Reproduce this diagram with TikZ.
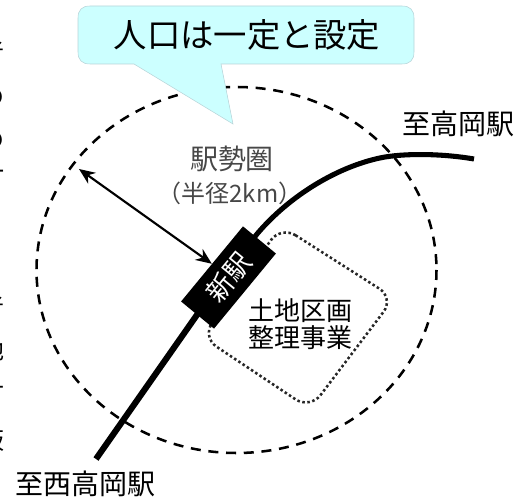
\documentclass[tikz,border=0pt]{standalone}
\usepackage{fontspec}
\setmainfont{Noto Sans CJK JP}
\usetikzlibrary{arrows.meta}
\definecolor{calloutfill}{HTML}{CCFFFF}
\definecolor{calloutedge}{HTML}{B8D4D8}
\tikzset{
  x=0.75pt,y=-0.75pt,
  lbl/.style={inner sep=0pt,font=\fontsize{#1}{#1}\selectfont,text=black},
  thinlbl/.style={inner sep=0pt,font=\fontsize{#1}{#1}\selectfont,text=black!72},
  edgefrag/.style={inner sep=0pt,font=\fontsize{18}{18}\selectfont,text=black},
  area/.style={draw=black,line width=1.9pt,dash pattern=on 7.5pt off 5.8pt},
  railS/.style={draw=black,line width=4.6pt},
  railN/.style={draw=black,line width=3.8pt},
  zone/.style={draw=black!85,line width=1.9pt,dash pattern=on 1.9pt off 1.9pt,rounded corners=13pt},
  balloon/.style={fill=calloutfill,draw=calloutedge,line width=0.4pt},
  reach/.style={draw=black,line width=1.6pt,{Stealth[length=12pt,width=10pt]}-{Stealth[length=12pt,width=10pt]}},
  stationbox/.style={fill=black,minimum width=73pt,minimum height=32pt,inner sep=0pt,rotate=50.5,text=white,font=\fontsize{20}{20}\selectfont}
}
\begin{document}
\begin{tikzpicture}
\useasboundingbox (0,0) rectangle (515,499);
% clipped text at the left edge
\begin{scope}
\clip (0,0) rectangle (5.5,499);
\node[edgefrag] (f1) at (-7,52) {者};
\node[edgefrag] (f2) at (-7,97) {の};
\node[edgefrag] (f3) at (-7,140) {の};
\node[edgefrag] (f4) at (-7,175) {一};
\node[edgefrag] (f5) at (-7,307) {者};
\node[edgefrag] (f6) at (-7,350) {地};
\node[edgefrag] (f7) at (-7,388) {十};
\node[edgefrag] (f8) at (-7,440) {板};
\end{scope}
% station catchment
\draw[area] (236.5,270) ellipse [x radius=200,y radius=183];
% land readjustment zone
\draw[zone] (281,226) -- (394,298) -- (310,409) -- (202,337) -- cycle;
% rail line
\coordinate (railA) at (96,459);
\coordinate (railB) at (220,282);
\coordinate (railC) at (474,159);
\draw[railS] (railA) -- (railB);
\draw[railN] (railB) -- (257,234)
  .. controls (290,195) and (340,165) .. (385,157)
  .. controls (410,153) and (445,154) .. (railC);
% callout
\draw[balloon] (90,6) -- (402,6) .. controls (410,6) and (414,10) .. (414,18)
  -- (414,52) .. controls (414,60) and (410,64) .. (402,64)
  -- (221,64) -- (233,124) -- (134,64) -- (90,64)
  .. controls (82,64) and (78,60) .. (78,52) -- (78,18)
  .. controls (78,10) and (82,6) .. (90,6) -- cycle;
\node[lbl=25] (title) at (247,35) {人口は一定と設定};
% station
\node[stationbox] (station) at (228.5,277.5) {新駅};
% radius arrow
\coordinate (rim) at (79,169);
\draw[reach] (rim) -- (station.north);
% labels
\node[thinlbl=21] (catch) at (232,159) {駅勢圏};
\node[thinlbl=18] (radius) at (230,193) {（半径2km）};
\node[lbl=19.5] (zone1) at (300,311) {土地区画};
\node[lbl=19.5] (zone2) at (300,338) {整理事業};
\node[lbl=21] (north) at (458,124) {至高岡駅};
\node[lbl=21] (south) at (86,484) {至西高岡駅};
\end{tikzpicture}
\end{document}
